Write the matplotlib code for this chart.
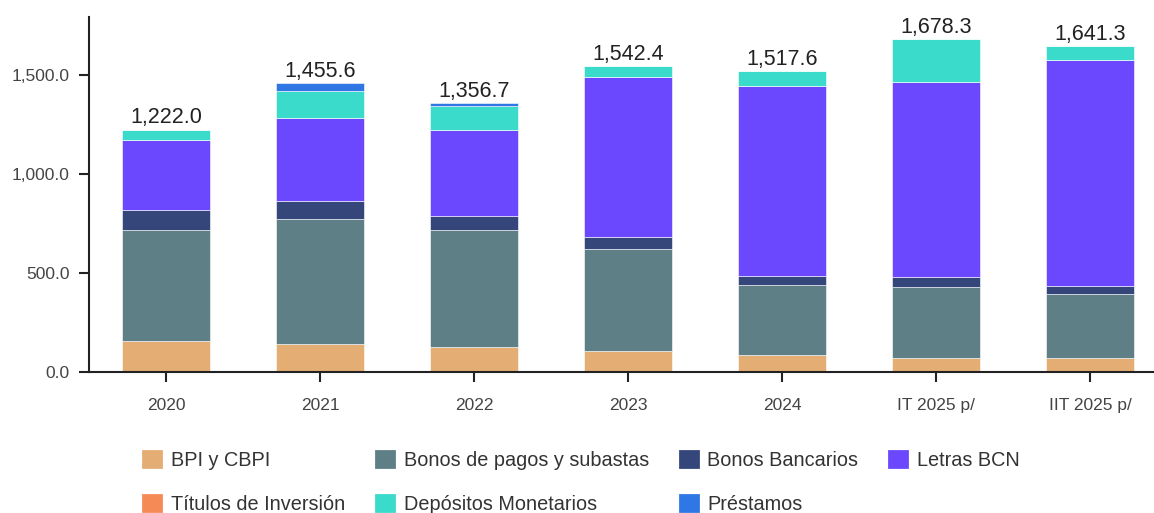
import matplotlib.pyplot as plt
from matplotlib.patches import Patch
import numpy as np

plt.rcParams['font.family'] = ['Liberation Sans', 'DejaVu Sans']

periodos = ['2020', '2021', '2022', '2023', '2024', 'IT 2025 p/', 'IIT 2025 p/']

series = ['BPI y CBPI', 'Bonos de pagos y subastas', 'Bonos Bancarios', 'Letras BCN',
          'Títulos de Inversión', 'Depósitos Monetarios', 'Préstamos']

bpi = [158.0, 140.0, 126.0, 107.6, 87.5, 72.0, 72.0]
bonos_pagos = [556.0, 633.0, 590.0, 515.0, 352.0, 359.0, 320.0]
bonos_bancarios = [104.0, 87.0, 72.0, 59.0, 47.0, 47.0, 42.0]
letras = [350.0, 423.0, 434.0, 806.0, 957.0, 986.0, 1141.0]
titulos = [0.0, 0.0, 0.0, 0.0, 0.0, 0.0, 0.0]
depositos = [54.0, 133.0, 121.0, 54.8, 74.1, 214.3, 66.3]
prestamos = [0.0, 39.6, 13.7, 0.0, 0.0, 0.0, 0.0]

colores = ['#e4ad74', '#5f7f86', '#34467a', '#6b47fe', '#f58a57', '#3adbcb', '#2f77e4']

datos = [bpi, bonos_pagos, bonos_bancarios, letras, titulos, depositos, prestamos]

fig = plt.figure(figsize=(11.54, 5.13), dpi=100)
ax = fig.add_axes([89 / 1154, 141 / 513, 1078 / 1154, 355 / 513])

x = np.arange(len(periodos))
base = np.zeros(len(periodos))
for nombre, vals, c in zip(series, datos, colores):
    vals = np.array(vals)
    ax.bar(x, vals, 0.57, bottom=base, color=c, edgecolor='white', linewidth=0.4, label=nombre)
    base = base + vals

for xi, tot in zip(x, base):
    ax.annotate(f'{tot:,.1f}', (xi, tot), xytext=(0, 1), textcoords='offset points',
                ha='center', va='bottom', fontsize=15.5, color='#222222')

ax.set_xlim(-0.5, 6.5)
ax.set_ylim(0, 1790)
ax.set_yticks([0, 500, 1000, 1500])
ax.set_yticklabels(['0.0', '500.0', '1,000.0', '1,500.0'])
ax.set_xticks(x)
ax.set_xticklabels(periodos)
ax.tick_params(axis='both', length=7, width=1.5, color='#222222', labelcolor='#444444', labelsize=12.5)
ax.tick_params(axis='x', pad=12)
ax.tick_params(axis='y', pad=7)
for s in ['top', 'right']:
    ax.spines[s].set_visible(False)
for s in ['left', 'bottom']:
    ax.spines[s].set_linewidth(1.5)
    ax.spines[s].set_color('#222222')

# orden para que la leyenda se llene por filas
orden = [0, 4, 1, 5, 2, 6, 3]
handles = [Patch(facecolor=colores[i], edgecolor=colores[i], linewidth=2, joinstyle='round') for i in orden]
etiquetas = [series[i] for i in orden]
fig.legend(handles, etiquetas, ncol=4, loc='upper left', bbox_to_anchor=(143 / 1154, 1 - 451 / 513),
           frameon=False, fontsize=14.3, handlelength=0.9, handleheight=0.9, handletextpad=0.5,
           columnspacing=1.55, labelspacing=1.25, borderpad=0, borderaxespad=0, labelcolor='#333333')

fig.savefig('out.png', dpi=100)
